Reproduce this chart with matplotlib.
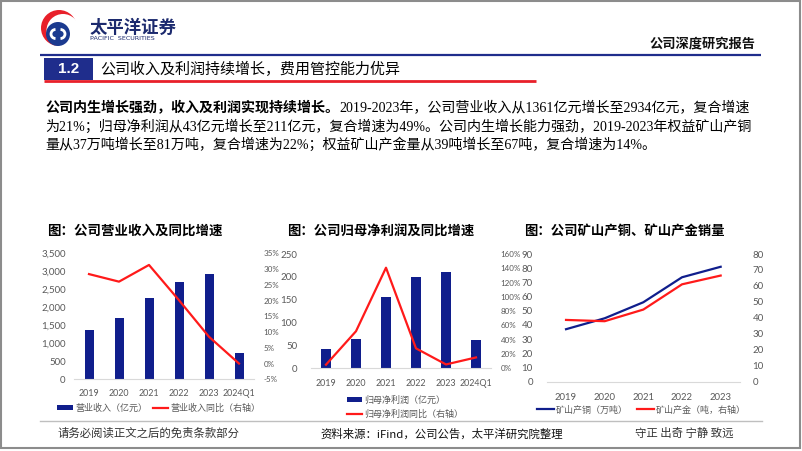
import matplotlib
matplotlib.use('Agg')
import matplotlib.pyplot as plt
from matplotlib.patches import Rectangle, Circle, Patch, Arc
from matplotlib.lines import Line2D
from matplotlib.ticker import FuncFormatter, MultipleLocator

CJK = ['Noto Sans CJK SC', 'DejaVu Sans']
SERIF_MIX = ['Liberation Serif', 'Noto Sans CJK SC']
NUM = ['Lato', 'DejaVu Sans']
plt.rcParams['font.family'] = CJK

# ---------------- data ----------------
rev_years = ['2019', '2020', '2021', '2022', '2023', '2024Q1']
revenue = [1361, 1715, 2251, 2703, 2934, 720]          # 亿元
revenue_yoy = [28.4, 26.0, 31.3, 20.1, 8.5, 0.0]       # %
profit = [43, 65, 157, 200, 211, 62]                   # 亿元
profit_yoy = [5.1, 51.9, 140.8, 27.9, 5.4, 15.2]       # %
mine_years = ['2019', '2020', '2021', '2022', '2023']
copper = [37, 44.7, 56, 73.6, 81]                      # 万吨
gold = [38.7, 37.9, 45.2, 61.0, 66.5]                  # 吨

NAVY = '#101e8c'
RED = '#ff1a1a'
GRAY_T = '#595959'

W, H = 802, 451
fig = plt.figure(figsize=(W / 100, H / 100), dpi=100)
fig.patch.set_facecolor('white')

ov = fig.add_axes([0, 0, 1, 1])
ov.set_xlim(0, W)
ov.set_ylim(H, 0)
ov.axis('off')

# frame
ov.add_patch(Rectangle((1, 1), W - 3, H - 4, fill=False, edgecolor='#8c8c8c', lw=1.5))

# logo
ov.add_patch(Circle((59, 28), 18, color='#e8202a', lw=0))
ov.add_patch(Circle((63, 30.5), 16.5, color='white', lw=0))
ov.add_patch(Circle((58, 34), 12, color='#1b3a8f', lw=0))
ov.add_patch(Arc((55.5, 34), 9, 9, theta1=90, theta2=270, color='white', lw=2.0))
ov.add_patch(Arc((60.5, 34), 9, 9, theta1=-90, theta2=90, color='white', lw=2.0))
ov.text(90, 28, '太平洋证券', fontsize=12.5, fontweight='bold', color='#1c2a6e',
        va='center', ha='left', family=CJK)
ov.text(90.5, 38.5, 'PACIFIC  SECURITIES', fontsize=4.6, color='#1c2a6e',
        va='center', ha='left', family=['DejaVu Sans'])
ov.text(755, 43, '公司深度研究报告', fontsize=9.5, fontweight='bold', color='#111111',
        va='center', ha='right', family=CJK)

# header lines
ov.plot([40, 761], [54.5, 54.5], color='#1f2d8c', lw=1.6, solid_capstyle='butt')
ov.add_patch(Rectangle((44, 57.5), 49, 22, color='#1f2d8c', lw=0))
ov.plot([44, 536], [80.5, 80.5], color='#e8202a', lw=2.0, solid_capstyle='butt')
ov.text(68.5, 69, '1.2', fontsize=11, fontweight='bold', color='white',
        va='center', ha='center', family=['Liberation Sans', 'DejaVu Sans'])
ov.text(100, 69, '公司收入及利润持续增长，费用管控能力优异', fontsize=10.8,
        color='black', va='center', ha='left', family=CJK)

# paragraph
renderer = fig.canvas.get_renderer()


def runs(x, y, parts, size=10.1):
    for txt, bold in parts:
        t = ov.text(x, y, txt, fontsize=size, fontweight='bold' if bold else 'normal',
                    color='black', va='center', ha='left',
                    family=CJK if bold else SERIF_MIX)
        bb = t.get_window_extent(renderer)
        x = ov.transData.inverted().transform((bb.x1, bb.y0))[0]


runs(45, 108, [('公司内生增长强劲，收入及利润实现持续增长。', True),
               ('2019-2023年，公司营业收入从1361亿元增长至2934亿元，复合增速', False)])
runs(45, 127, [('为21%；归母净利润从43亿元增长至211亿元，复合增速为49%。公司内生增长能力强劲，2019-2023年权益矿山产铜', False)])
runs(45, 145, [('量从37万吨增长至81万吨，复合增速为22%；权益矿山产金量从39吨增长至67吨，复合增速为14%。', False)])

# chart titles
ov.text(47, 231, '图：公司营业收入及同比增速', fontsize=9.7, fontweight='bold', va='center', ha='left')
ov.text(287, 231, '图：公司归母净利润及同比增速', fontsize=9.6, fontweight='bold', va='center', ha='left')
ov.text(524, 231, '图：公司矿山产铜、矿山产金销量', fontsize=9.6, fontweight='bold', va='center', ha='left')

# footer
ov.plot([40, 762], [421, 421], color='#bfbfbf', lw=1.0)
ov.text(58, 433, '请务必阅读正文之后的免责条款部分', fontsize=8.2, color='#333333', va='center', ha='left')
ov.text(320, 434, '资料来源：iFind，公司公告，太平洋研究院整理', fontsize=8.2, color='#111111',
        va='center', ha='left')
ov.text(635, 433, '守正 出奇 宁静 致远', fontsize=8.2, color='#333333', va='center', ha='left')


def axes_px(x0, x1, y0, y1):
    a = fig.add_axes([x0 / W, 1 - y1 / H, (x1 - x0) / W, (y1 - y0) / H])
    a.set_facecolor('none')
    return a


def style(ax, right, left_pad, right_pad, fmt_l, fmt_r, xpad=7, xsize=6.6):
    for s in ['top', 'left', 'right']:
        ax.spines[s].set_visible(False)
    ax.spines['bottom'].set_color('#d9d9d9')
    ax.spines['bottom'].set_linewidth(0.8)
    for s in ax.spines:
        right.spines[s].set_visible(False)
    ax.tick_params(axis='y', length=0, labelsize=7, colors=GRAY_T, pad=left_pad)
    ax.tick_params(axis='x', length=0, labelsize=xsize, colors=GRAY_T, pad=xpad)
    right.tick_params(axis='y', length=0, labelsize=5.8, colors=GRAY_T, pad=right_pad)
    ax.yaxis.set_major_formatter(FuncFormatter(fmt_l))
    right.yaxis.set_major_formatter(FuncFormatter(fmt_r))
    for lab in ax.get_xticklabels() + ax.get_yticklabels() + right.get_yticklabels():
        lab.set_family(NUM)


# ---------------- chart 1 ----------------
ax1 = axes_px(74, 254, 253.3, 379.3)
x1 = list(range(len(rev_years)))
ax1.bar(x1, revenue, width=0.3, color=NAVY, zorder=2)
ax1.set_xlim(-0.5, len(rev_years) - 0.5)
ax1.set_ylim(0, 3500)
ax1.yaxis.set_major_locator(MultipleLocator(500))
ax1.set_xticks(x1)
ax1.set_xticklabels(rev_years)
ax1r = ax1.twinx()
ax1r.set_facecolor('none')
ax1r.plot(x1, revenue_yoy, color=RED, lw=1.6)
ax1r.set_ylim(-5, 35)
ax1r.yaxis.set_major_locator(MultipleLocator(5))
style(ax1, ax1r, 6, 7, lambda v, p: f'{v:,.0f}', lambda v, p: f'{v:.0f}%', xsize=6.4)
ax1.legend(handles=[Patch(facecolor=NAVY, edgecolor='none'),
                    Line2D([], [], color=RED, lw=1.6)],
           labels=['营业收入（亿元）', '营业收入同比（右轴）'],
           loc='center', bbox_to_anchor=(159 / W, 1 - 408 / H), bbox_transform=fig.transFigure,
           ncol=2, frameon=False, fontsize=6.5, labelcolor=GRAY_T, handlelength=1.7,
           handleheight=0.55, handletextpad=0.3, columnspacing=0.6, borderpad=0)

# ---------------- chart 2 ----------------
ax2 = axes_px(311, 491, 254, 368.3)
x2 = list(range(len(rev_years)))
ax2.bar(x2, profit, width=0.32, color=NAVY, zorder=2)
ax2.set_xlim(-0.5, len(rev_years) - 0.5)
ax2.set_ylim(0, 250)
ax2.yaxis.set_major_locator(MultipleLocator(50))
ax2.set_xticks(x2)
ax2.set_xticklabels(rev_years)
ax2r = ax2.twinx()
ax2r.set_facecolor('none')
ax2r.plot(x2, profit_yoy, color=RED, lw=1.6)
ax2r.set_ylim(0, 160)
ax2r.yaxis.set_major_locator(MultipleLocator(20))
style(ax2, ax2r, 10, 7, lambda v, p: f'{v:.0f}', lambda v, p: f'{v:.0f}%', xpad=8, xsize=6.4)
ax2.legend(handles=[Patch(facecolor=NAVY, edgecolor='none'),
                    Line2D([], [], color=RED, lw=1.6)],
           labels=['归母净利润（亿元）', '归母净利润同比（右轴）'],
           loc='upper left', bbox_to_anchor=(342 / W, 1 - 391 / H), bbox_transform=fig.transFigure,
           ncol=1, frameon=False, fontsize=6.5, labelcolor=GRAY_T, handlelength=1.7,
           handleheight=0.55, handletextpad=0.3, labelspacing=0.55, borderpad=0)

# ---------------- chart 3 ----------------
ax3 = axes_px(546.7, 740, 254, 381.7)
x3 = list(range(len(mine_years)))
ax3.plot(x3, copper, color=NAVY, lw=1.6)
ax3.set_xlim(-0.5, len(mine_years) - 0.5)
ax3.set_ylim(0, 90)
ax3.yaxis.set_major_locator(MultipleLocator(10))
ax3.set_xticks(x3)
ax3.set_xticklabels(mine_years)
ax3r = ax3.twinx()
ax3r.set_facecolor('none')
ax3r.plot(x3, gold, color=RED, lw=1.6)
ax3r.set_ylim(0, 80)
ax3r.yaxis.set_major_locator(MultipleLocator(10))
style(ax3, ax3r, 10, 9, lambda v, p: f'{v:.0f}', lambda v, p: f'{v:.0f}', xpad=8, xsize=6.8)
for lab in ax3r.get_yticklabels():
    lab.set_fontsize(7)
ax3.legend(handles=[Line2D([], [], color=NAVY, lw=1.6),
                    Line2D([], [], color=RED, lw=1.6)],
           labels=['矿山产铜（万吨）', '矿山产金（吨，右轴）'],
           loc='center', bbox_to_anchor=(641 / W, 1 - 410 / H), bbox_transform=fig.transFigure,
           ncol=2, frameon=False, fontsize=6.5, labelcolor=GRAY_T, handlelength=1.9,
           handletextpad=0.2, columnspacing=1.0, borderpad=0)

fig.savefig('out.png', dpi=100)
